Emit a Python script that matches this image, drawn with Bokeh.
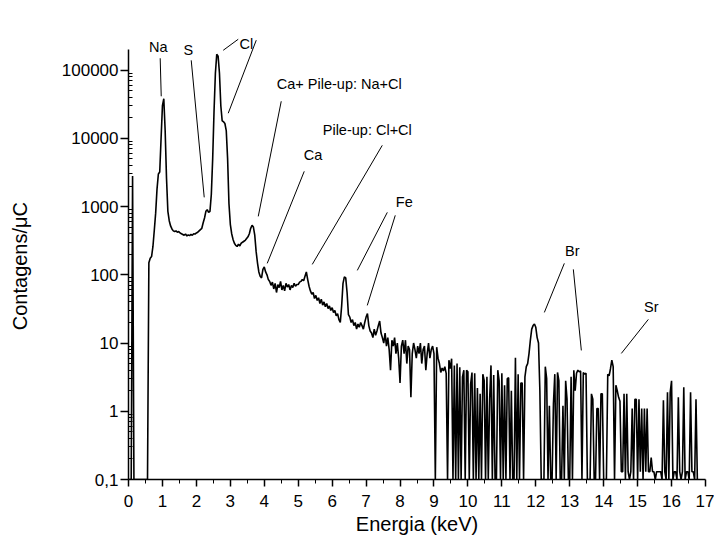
import numpy as np
from bokeh.plotting import figure
from bokeh.models import FixedTicker, CustomJSTickFormatter, Range1d
from bokeh.core.properties import value
from bokeh.embed import file_html
from bokeh.resources import INLINE

# ---------------- data ----------------
channel_width_kev = 0.04

# counts per uC, one value per channel (0.04 keV), 0.1 = empty channel
counts_0_4kev = [
    0.1, 0.1, 0.1, 2800, 0.1, 0.1, 0.1, 0.1, 0.1, 0.1, 0.1, 0.1, 0.1, 0.1, 0.1,
    150, 175, 185, 260, 450, 800, 1800, 3000, 3200, 10000,
    30000, 38000, 13000, 2600, 850, 620, 520, 470, 440, 430, 440, 420, 430, 410,
    400, 390, 380, 395, 370, 385, 375, 390, 380, 400, 395,
    410, 420, 440, 460, 480, 580, 680, 850, 900, 820, 850, 1500, 5000, 25000,
    90000, 170000, 160000, 90000, 30000, 18000, 17500, 16500, 13000, 5000, 1100,
    550, 400, 330, 290, 270, 260, 280, 265, 290, 300, 310, 320, 340, 360, 400,
    480, 530, 500, 380, 220, 150, 110, 95, 90, 120,
]
counts_4_9kev = [
    130, 110, 100, 85, 80, 70, 78, 62, 75, 55, 72, 65, 80, 60, 70, 58, 75, 66,
    72, 60, 70, 65, 75, 68, 72,
    72, 78, 80, 85, 82, 95, 110, 85, 68, 58, 52, 55, 45, 50, 42, 46, 38, 44, 36,
    40, 34, 38, 32, 35, 30,
    33, 28, 30, 25, 27, 22, 20, 35, 75, 93, 90, 55, 26, 24, 20, 22, 18, 20, 16,
    19, 17, 20, 18, 16, 20,
    24, 27, 18, 15, 14, 12, 16, 13, 15, 18, 21, 14, 12, 10, 14, 9, 12, 8, 4, 11,
    9, 12, 7, 10, 6,
    2.6, 9, 11, 7, 11, 5, 9, 8, 1.6, 7, 10, 8, 6, 9, 7, 10, 5, 8, 9, 4, 7, 10, 6,
    8, 9,
]
counts_9_17kev = [
    7, 0.1, 8.7, 6, 5, 3.7, 4.3, 3.9, 4.5, 3.6, 0.1, 5.6, 4.2, 5.9, 0.1, 4.7,
    0.1, 5.0, 0.1, 4.4, 0.1, 3.2, 4.0, 0.1, 4.0,
    3.8, 0.1, 2.5, 3.7, 0.1, 3.6, 0.1, 2.2, 0.1, 1.8, 0.1, 3.5, 2.8, 0.1, 3.2,
    0.1, 1.5, 4.7, 0.1, 3.4, 0.1, 0.1, 4.0, 2.8, 0.1,
    3.6, 0.1, 2.4, 0.1, 3.0, 3.1, 0.1, 2.0, 0.1, 0.1, 6.1, 0.1, 3.5, 0.1, 2.6,
    2.6, 0.1, 3.2, 4.5, 5, 7, 11, 16, 18, 19,
    17, 12, 10, 2, 0.1, 0.1, 0.1, 4.5, 3.0, 0.1, 1.2, 0.1, 0.1, 1.3, 3.5, 0.1,
    3.7, 2.8, 0.1, 0.1, 1.2, 0.1, 2.8, 1.5, 0.1,
    0.1, 3.2, 0.1, 4.0, 2.0, 3.6, 4.0, 3.8, 3.9, 0.1, 3.7, 3.5, 3.6, 0.1, 0.1,
    0.1, 1.8, 1.5, 0.1, 0.1, 1.1, 1.1, 0.1, 1.8, 1.8,
    0.1, 0.1, 0.1, 3.5, 3.3, 4.2, 5.6, 4.5, 0.1, 2.4, 2.0, 1.6, 1.4, 0.13, 0.13,
    1.8, 0.1, 1.8, 0.13, 0.1, 0.13, 1.1, 0.1, 1.5, 1.5,
    0.1, 1.5, 0.13, 1.1, 0.1, 1.1, 0.13, 1.1, 0.13, 0.13, 0.21, 0.13, 0.13, 0.1,
    0.13, 0.13, 0.13, 0.13, 0.1, 1.45, 0.13, 0.1, 1.9, 0.1, 1.9,
    2.8, 0.1, 0.13, 0.13, 0.1, 1.6, 0.13, 0.1, 0.13, 2.25, 0.1, 0.13, 0.13, 0.1,
    1.9, 0.13, 0.13, 0.1, 1.5, 0.1,
]

x_ticks = list(range(0, 18))
x_minor_ticks = [i + 0.5 for i in range(17)]
y_ticks = [0.1, 1, 10, 100, 1000, 10000, 100000]
y_minor_ticks = [m * 10.0 ** d for d in range(-1, 5) for m in range(2, 10)]

x_title = "Energia (keV)"
y_title = "Contagens/\u03bcC"

# annotations (label text, label position, pointer line ends) in data units
ann_text = ["Na", "S", "Cl", "Ca+ Pile-up: Na+Cl", "Ca", "Pile-up: Cl+Cl",
            "Fe", "Br", "Sr"]
ann_x = [0.875, 1.76, 3.47, 6.21, 5.44, 7.035, 8.126, 13.077, 15.405]
ann_y = [2.16e5, 1.95e5, 2.39e5, 6.19e4, 5630, 1.31e4, 1152, 220, 33.3]

ptr_x0 = [0.934, 1.848, 2.791, 3.764, 4.500, 5.178, 7.477, 7.625, 7.860, 12.841, 13.106, 15.316]
ptr_y0 = [1.49e5, 1.39e5, 1.95e5, 2.74e5, 3.49e4, 3281, 7890, 822, 743, 147, 120, 22.2]
ptr_x1 = [0.964, 2.231, 3.233, 2.938, 3.823, 4.087, 5.414, 6.741, 7.035, 12.252, 13.342, 14.520]
ptr_y1 = [4.13e4, 1364, 2.83e5, 2.33e4, 718, 147, 142, 116, 35.6, 28.1, 7.79, 7.04]

# ---------------- build ----------------
counts = counts_0_4kev + counts_4_9kev + counts_9_17kev
energy = [round(i * channel_width_kev, 2) for i in range(len(counts))]

FONT = "Liberation Sans"
Y_MIN, Y_AXIS_TOP, Y_FRAME_TOP = 0.1, 2e5, 10 ** 5.58

p = figure(frame_width=577, frame_height=449,
           output_backend="svg", toolbar_location=None,
           y_axis_type="log",
           x_range=Range1d(0, 17), y_range=Range1d(Y_MIN, Y_FRAME_TOP),
           min_border_left=128, min_border_right=9,
           min_border_top=30, min_border_bottom=50)
p.outline_line_color = None
p.grid.visible = False
p.background_fill_color = "white"
p.border_fill_color = "white"

p.line(energy, counts, line_color="black", line_width=1.6)

p.segment(x0=ptr_x0, y0=ptr_y0, x1=ptr_x1, y1=ptr_y1,
          line_color="black", line_width=1)
p.text(x=ann_x, y=ann_y, text=ann_text, text_font=value(FONT),
       text_font_size="14.5px", text_align="center", text_baseline="middle",
       text_color="black")

# x axis
xa = p.xaxis[0]
xa.ticker = FixedTicker(ticks=x_ticks, minor_ticks=x_minor_ticks)
xa.axis_label = x_title
xa.bounds = (0, 17)

# y axis (title padded with no-break spaces so that it centres on the
# drawn axis line 0.1 .. 2e5 rather than on the taller frame)
ya = p.yaxis[0]
ya.ticker = FixedTicker(ticks=y_ticks, minor_ticks=y_minor_ticks)
ya.formatter = CustomJSTickFormatter(
    code="return tick < 0.5 ? '0,1' : Math.round(tick).toString();")
ya.bounds = (Y_MIN, Y_AXIS_TOP)
ya.axis_label = y_title + "\u00a0" * 4

for ax in (xa, ya):
    ax.axis_line_color = "black"
    ax.axis_line_width = 1.5
    ax.major_tick_line_color = "black"
    ax.major_tick_line_width = 1.5
    ax.minor_tick_line_color = "black"
    ax.minor_tick_line_width = 1
    ax.major_label_text_font = FONT
    ax.major_label_text_font_size = "17px"
    ax.major_label_text_color = "black"
    ax.axis_label_text_font = FONT
    ax.axis_label_text_font_size = "20px"
    ax.axis_label_text_font_style = "normal"
    ax.axis_label_text_color = "black"

xa.major_tick_in = 0
xa.major_tick_out = 7
xa.minor_tick_in = 0
xa.minor_tick_out = 4
xa.major_label_standoff = 8
xa.axis_label_standoff = 3

ya.major_tick_in = 0
ya.major_tick_out = 8
ya.minor_tick_in = 4
ya.minor_tick_out = 0
ya.major_label_standoff = 2
ya.axis_label_standoff = 28

open("out.html", "w").write(file_html(p, INLINE))
